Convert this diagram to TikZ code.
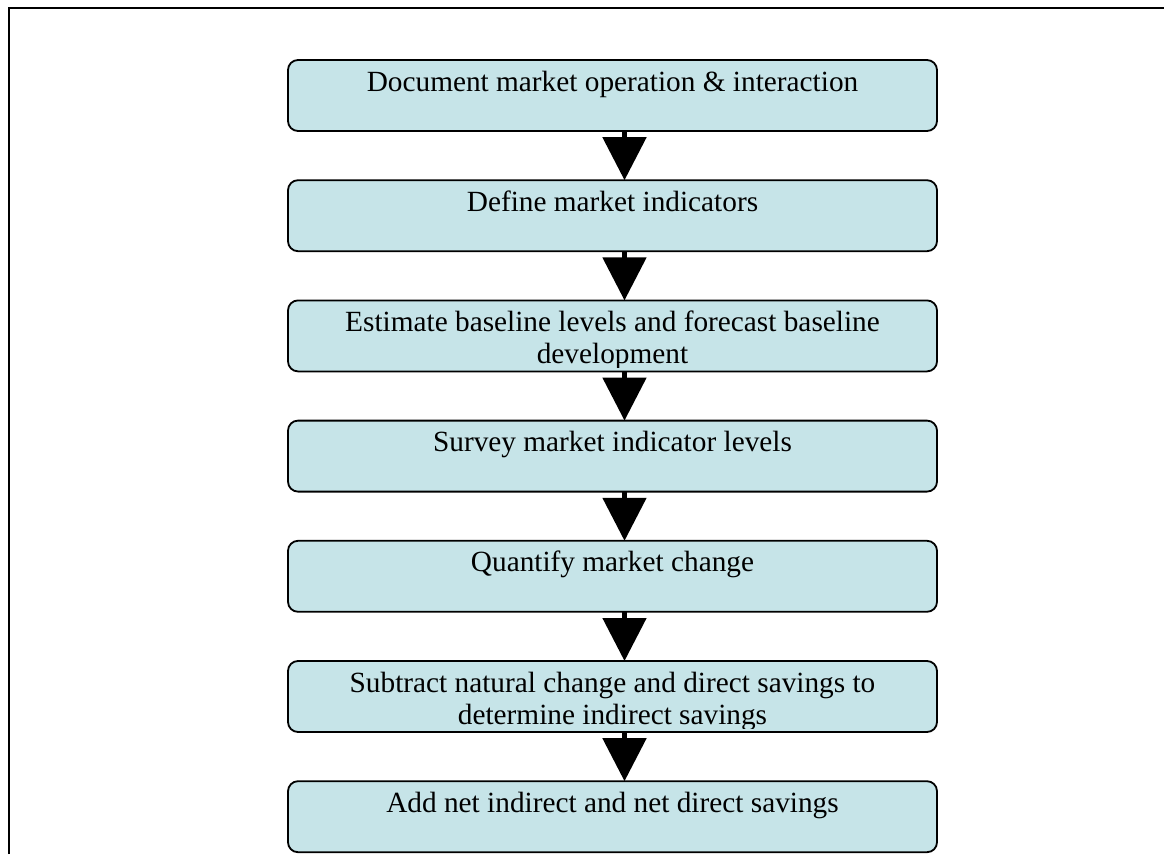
\documentclass[tikz,border=0pt]{standalone}
\usepackage{fontspec}
\setmainfont{Liberation Serif}
\usetikzlibrary{chains,positioning,arrows.meta}
\definecolor{stepFill}{RGB}{198,228,232}

\begin{document}
\begin{tikzpicture}[
	x=1pt, y=-1pt,
	node distance = 49.2pt,
	StepBox/.style={draw, line width=1.8pt, rounded corners=10pt, minimum width=649pt,
		minimum height=71pt, outer sep=0pt, fill=stepFill, on chain},
	StepText/.style={anchor=base, align=center, inner sep=0pt,
		font=\fontsize{29.3}{32}\selectfont},
	StepArrow/.style={line width=5pt, -{Triangle[length=43pt, width=43pt]}},
	]
	\useasboundingbox (0,0) rectangle (1164,854);
	\draw[line width=2pt] (9,854) -- (9,8) -- (1164,8);
	
	% last text line sits \dy below the top of its box
	\begin{scope}[shift={(612.5,95.5)}, start chain = going below]
	\foreach \i/\dy/\txt in {1/31/{Document market operation \& interaction},
		2/31/{Define market indicators},
		3/63/{Estimate baseline levels and forecast baseline\\development},
		4/31/{Survey market indicator levels},
		5/31/{Quantify market change},
		6/63/{Subtract natural change and direct savings to\\determine indirect savings},
		7/31/{Add net indirect and net direct savings}}
	{
		\node [StepBox] (b\i) {};
		\begin{scope}
		\clip ([yshift=4pt]b\i.south west) rectangle (b\i.north east);
		\node [StepText] (t\i) at ([yshift=-\dy pt]b\i.north) {\txt};
		\end{scope}
	}
	\end{scope}
	
	\foreach \i [count=\j from 2] in {1,...,6}
	\draw [StepArrow] ([xshift=12pt]b\i.south) -- ([xshift=12pt]b\j.north);
\end{tikzpicture}
\end{document}
